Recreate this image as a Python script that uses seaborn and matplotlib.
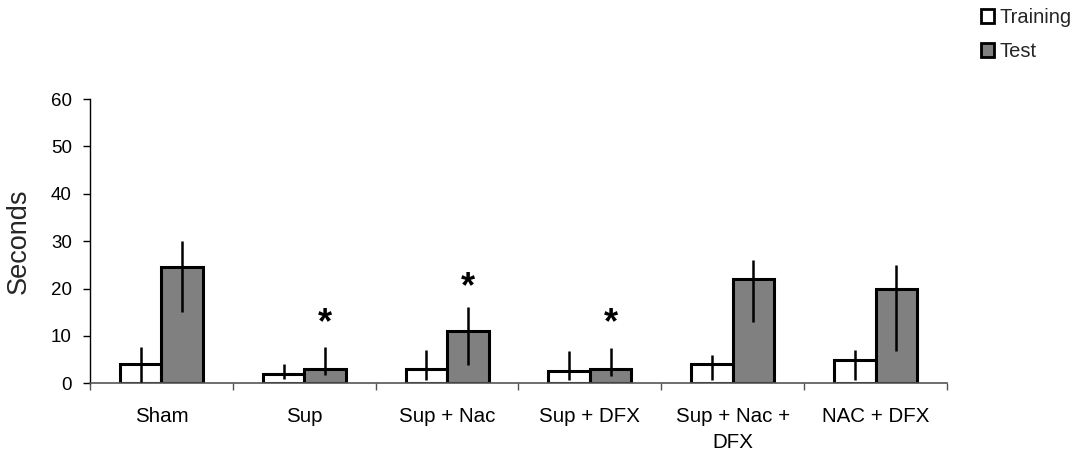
import matplotlib
matplotlib.use("Agg")
import matplotlib.pyplot as plt
import seaborn as sns
import pandas as pd
import numpy as np
from matplotlib.patches import Patch

categories = ["Sham", "Sup", "Sup + Nac", "Sup + DFX", "Sup + Nac +\nDFX", "NAC + DFX"]
phases = ["Training", "Test"]
training = [4.0, 2.0, 3.0, 2.5, 4.0, 5.0]
test = [24.5, 3.0, 11.1, 3.0, 22.0, 20.0]
training_lo = [0.3, 0.9, 0.8, 0.8, 0.8, 0.8]
training_hi = [7.6, 4.1, 7.0, 6.8, 6.0, 7.0]
test_lo = [15.1, 1.75, 3.9, 1.6, 12.9, 6.8]
test_hi = [30.1, 7.6, 16.0, 7.4, 26.0, 25.0]
star_groups = ["Sup", "Sup + Nac", "Sup + DFX"]
star_y = [13.7, 21.3, 13.8]
yticks = [0, 10, 20, 30, 40, 50, 60]

sns.set_theme(style="white")
plt.rcParams["font.family"] = ["Liberation Sans", "DejaVu Sans"]

df = pd.DataFrame({
    "group": categories * 2,
    "phase": ["Training"] * len(categories) + ["Test"] * len(categories),
    "value": training + test,
})

fig = plt.figure(figsize=(10.79, 4.57), dpi=100)
ax = fig.add_axes([90 / 1079, 1 - 383.3 / 457, (947 - 90) / 1079, (383.3 - 99) / 457])

colors = ["white", "#808080"]
sns.barplot(data=df, x="group", y="value", hue="phase", order=categories,
            hue_order=phases, palette=colors, edgecolor="black", linewidth=2.2,
            width=0.58, errorbar=None, legend=False, ax=ax, saturation=1)

los = [training_lo, test_lo]
his = [training_hi, test_hi]
vals = [training, test]
test_x = {}
bar_containers = list(ax.containers)
for k, cont in enumerate(bar_containers):
    xs = [p.get_x() + p.get_width() / 2 for p in cont.patches]
    v = np.array(vals[k])
    lo = v - np.array(los[k])
    hi = np.array(his[k]) - v
    ax.errorbar(xs, v, yerr=[lo, hi], fmt="none", ecolor="black", elinewidth=1.8,
                capsize=0, zorder=5)
    if k == 1:
        test_x = dict(zip(categories, xs))

for g, y in zip(star_groups, star_y):
    ax.annotate("*", xy=(test_x[g], y), xytext=(0, -11), textcoords="offset points",
                ha="center", va="baseline", fontsize=26, fontweight="bold", color="black")

ax.set_xlim(-0.5, len(categories) - 0.5)
ax.set_ylim(0, 60)
ax.set_yticks(yticks)
ax.set_yticklabels([str(t) for t in yticks], fontsize=13.5)
ax.set_xticks(range(len(categories)))
ax.set_xticklabels(categories, fontsize=14.8)
for lab in ax.get_xticklabels():
    lab.set_linespacing(1.45)
ax.set_xticks(np.arange(-0.5, len(categories), 1.0), minor=True)
ax.tick_params(axis="x", which="major", length=0, pad=17, colors="black")
ax.tick_params(axis="x", which="minor", length=5, width=1, direction="out", color="#555555", bottom=True)
ax.tick_params(axis="y", which="major", length=5, width=1, direction="out", pad=8, left=True, colors="black")
ax.set_xlabel("")
ax.set_ylabel("Seconds", fontsize=19.5, labelpad=14)
for s in ["top", "right"]:
    ax.spines[s].set_visible(False)
ax.spines["left"].set_color("black")
ax.spines["left"].set_linewidth(1)
ax.spines["bottom"].set_color("#555555")
ax.spines["bottom"].set_linewidth(1.2)

handles = [Patch(facecolor=c, edgecolor="black", linewidth=2) for c in colors]
fig.legend(handles, phases, loc="upper left", bbox_to_anchor=(981 / 1079, 1 - 8 / 457),
           frameon=False, borderpad=0, borderaxespad=0, fontsize=14.5,
           handlelength=0.65, handleheight=0.65, handletextpad=0.25, labelspacing=0.75)

fig.savefig("out.png", dpi=100)
